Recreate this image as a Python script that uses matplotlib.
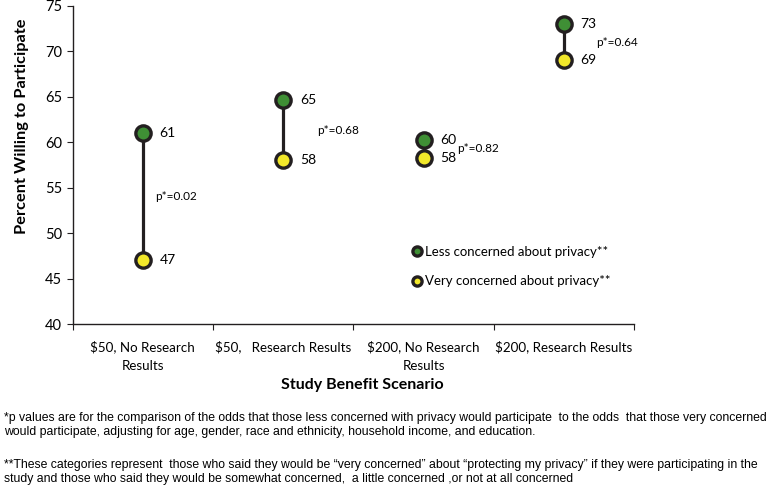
import numpy as np
import matplotlib.pyplot as plt

# 数据
categories = ['$50, No Research\nResults', '$50,   Research Results',
              '$200, No Research\nResults', '$200, Research Results']
less_concerned = [61, 64.7, 60.3, 73]
very_concerned = [47, 58, 58.3, 69]
less_labels = ['61', '65', '60', '73']
very_labels = ['47', '58', '58', '69']
p_values = ['p*=0.02', 'p*=0.68', 'p*=0.82', 'p*=0.64']

footnote1 = ('*p values are for the comparison of the odds that those less concerned with privacy '
             'would participate  to the odds  that those very concerned\n'
             'would participate, adjusting for age, gender, race and ethnicity, household income, and education.')
footnote2 = ('**These categories represent  those who said they would be \u201cvery concerned\u201d about '
             '\u201cprotecting my privacy\u201d if they were participating in the\n'
             'study and those who said they would be somewhat concerned,  a little concerned ,or not at all concerned')

# 样式
dark = '#231f20'
green = '#3f8f35'
yellow = '#f2e82a'
main_font = 'Lato'
p_offsets = [12, 34, 34, 32]

plt.rcParams['font.family'] = main_font

fig = plt.figure(figsize=(7.69, 4.94), dpi=100)
ax = fig.add_axes([0.0945, 0.344, 0.73, 0.644])

x = np.arange(len(categories))

# 连接线
for xi, lo, hi in zip(x, very_concerned, less_concerned):
    ax.plot([xi, xi], [lo, hi], color=dark, lw=2.3, zorder=1, solid_capstyle='butt')

ax.plot(x, less_concerned, 'o', ms=11, mfc=green, mec=dark, mew=2.4, ls='none', zorder=3,
        label='Less concerned about privacy**')
ax.plot(x, very_concerned, 'o', ms=11, mfc=yellow, mec=dark, mew=2.4, ls='none', zorder=3,
        label='Very concerned about privacy**')

# 数据标签
for xi, v, lab in zip(x, less_concerned, less_labels):
    ax.annotate(lab, (xi, v), xytext=(12, 0), textcoords='offset points',
                va='center', ha='left', fontsize=10)
for xi, v, lab in zip(x, very_concerned, very_labels):
    ax.annotate(lab, (xi, v), xytext=(12, 0), textcoords='offset points',
                va='center', ha='left', fontsize=10)
for xi, lo, hi, p, off in zip(x, very_concerned, less_concerned, p_values, p_offsets):
    ax.annotate(p, (xi, (lo + hi) / 2), xytext=(off * 0.72, 0), textcoords='offset points',
                va='center', ha='left', fontsize=8.5)

ax.set_xlim(-0.5, 3.5)
ax.set_ylim(40, 75)
ax.set_yticks(np.arange(40, 76, 5))
ax.set_xticks(np.arange(-0.5, 3.6, 1))
ax.set_xticklabels([])
ax.set_xticks(x, minor=True)
ax.set_xticklabels(categories, minor=True, fontsize=9.6, linespacing=1.6)
ax.tick_params(axis='x', which='minor', length=0, pad=12)
ax.tick_params(axis='both', which='major', direction='out', length=4, color=dark, labelsize=10.5)
ax.spines['top'].set_visible(False)
ax.spines['right'].set_visible(False)
for s in ['left', 'bottom']:
    ax.spines[s].set_color(dark)
    ax.spines[s].set_linewidth(1)

ax.set_ylabel('Percent Willing to Participate', fontsize=11.8, fontweight='bold')
ax.yaxis.set_label_coords(-0.078, 0.623)

leg = ax.legend(loc='center left', bbox_to_anchor=(0.6, 0.181), frameon=False, fontsize=9.5,
                handletextpad=0.0, labelspacing=1.35, markerscale=0.6, handlelength=1.2,
                borderaxespad=0, borderpad=0)

fig.text(362 / 769, 1 - 385 / 494, 'Study Benefit Scenario', ha='center', va='center',
         fontsize=11.5, fontweight='bold')

fig.text(4 / 769, 1 - 425 / 494, footnote1, ha='left', va='center', fontsize=8.8,
         family='Liberation Sans', linespacing=1.3)
fig.text(4 / 769, 1 - 472 / 494, footnote2, ha='left', va='center', fontsize=8.8,
         family='Liberation Sans', linespacing=1.3)

fig.savefig('out.png', dpi=100)
